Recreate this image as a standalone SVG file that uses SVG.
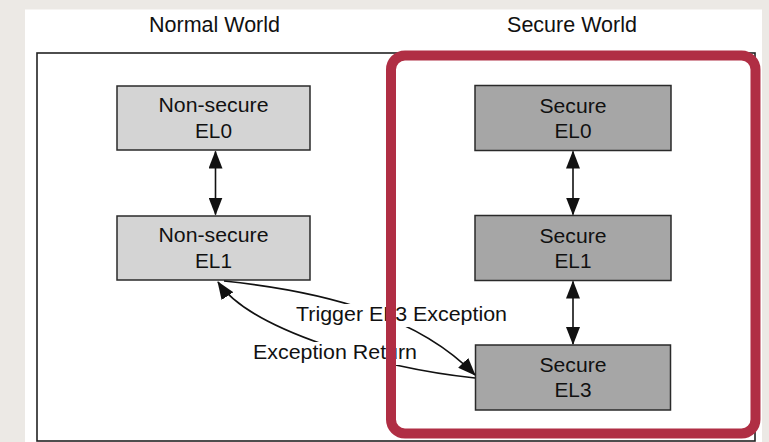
<svg xmlns="http://www.w3.org/2000/svg" width="769" height="442" viewBox="0 0 769 442">
<defs>
<style>
.t{font-family:"Liberation Sans",Arial,sans-serif;fill:#111;text-anchor:middle}
.title{font-size:21.5px}
.lbl{font-size:20px}
.ns{fill:#d4d4d4;stroke:#2a2a2a;stroke-width:1.5}
.sc{fill:#a6a6a6;stroke:#2a2a2a;stroke-width:1.5}
.ln{fill:none;stroke:#111;stroke-width:1.6}
.lbg{fill:#fff}
</style>
<marker id="ah" markerUnits="userSpaceOnUse" markerWidth="18" markerHeight="14" viewBox="0 0 18 14" refX="17" refY="7" orient="auto-start-reverse">
<path d="M0,0 L18,7 L0,14 Z" fill="#111"/>
</marker>
</defs>
<rect width="769" height="442" fill="#ece9e5"/>
<rect x="25" y="9.5" width="737" height="433" fill="#fff"/>
<text class="t title" x="214.5" y="32">Normal World</text>
<text class="t title" x="572" y="32">Secure World</text>
<rect x="37" y="53" width="718" height="388" fill="none" stroke="#222" stroke-width="1.6"/>

<g id="ns-el0">
<rect class="ns" x="117" y="86" width="193" height="64"/>
<text class="t lbl" x="213.5" y="112" textLength="110" lengthAdjust="spacingAndGlyphs">Non-secure</text>
<text class="t lbl" x="213.5" y="138" textLength="37" lengthAdjust="spacingAndGlyphs">EL0</text>
</g>
<g id="ns-el1">
<rect class="ns" x="117" y="216" width="193" height="64"/>
<text class="t lbl" x="213.5" y="242" textLength="110" lengthAdjust="spacingAndGlyphs">Non-secure</text>
<text class="t lbl" x="213.5" y="267.5" textLength="37" lengthAdjust="spacingAndGlyphs">EL1</text>
</g>
<g id="s-el0">
<rect class="sc" x="475" y="85.5" width="196" height="65"/>
<text class="t lbl" x="573" y="112.5" textLength="67" lengthAdjust="spacingAndGlyphs">Secure</text>
<text class="t lbl" x="573" y="138" textLength="37" lengthAdjust="spacingAndGlyphs">EL0</text>
</g>
<g id="s-el1">
<rect class="sc" x="475" y="215.5" width="196" height="65"/>
<text class="t lbl" x="573" y="242.5" textLength="67" lengthAdjust="spacingAndGlyphs">Secure</text>
<text class="t lbl" x="573" y="268" textLength="37" lengthAdjust="spacingAndGlyphs">EL1</text>
</g>
<g id="s-el3">
<rect class="sc" x="475.5" y="345" width="195" height="65"/>
<text class="t lbl" x="573" y="372" textLength="67" lengthAdjust="spacingAndGlyphs">Secure</text>
<text class="t lbl" x="573" y="397" textLength="37" lengthAdjust="spacingAndGlyphs">EL3</text>
</g>

<g id="connectors">
<line class="ln" x1="215.5" y1="151.5" x2="215.5" y2="214.5" marker-start="url(#ah)" marker-end="url(#ah)"/>
<line class="ln" x1="573" y1="151.5" x2="573" y2="214.5" marker-start="url(#ah)" marker-end="url(#ah)"/>
<line class="ln" x1="573" y1="281.5" x2="573" y2="344" marker-start="url(#ah)" marker-end="url(#ah)"/>
<path class="ln" d="M224,281 C330,292 420,318 475,375" marker-end="url(#ah)"/>
<path class="ln" d="M475,378 C380,368 250,330 218,282" marker-end="url(#ah)"/>
<rect class="lbg" x="294" y="304" width="215" height="23"/>
<text class="t lbl" x="401.5" y="321" textLength="211" lengthAdjust="spacingAndGlyphs">Trigger EL3 Exception</text>
<rect class="lbg" x="251" y="342" width="168" height="23"/>
<text class="t lbl" x="335" y="359" textLength="164" lengthAdjust="spacingAndGlyphs">Exception Return</text>
</g>

<rect x="391" y="55.5" width="364.5" height="378" rx="14" fill="none" stroke="#b02e44" stroke-width="10"/>
</svg>
